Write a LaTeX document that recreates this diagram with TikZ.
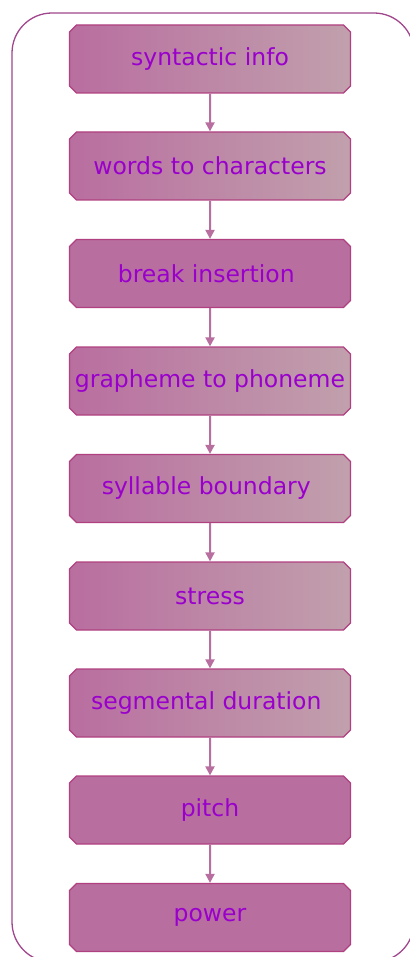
\documentclass[tikz,border=0pt]{standalone}
\usepackage{fontspec}
\setmainfont{DejaVu Sans}
\usepackage{xcolor}
\definecolor{ttsmauve}{RGB}{185,110,160}
\definecolor{ttsgrey}{RGB}{193,160,172}
\definecolor{ttsedge}{RGB}{176,64,128}
\definecolor{ttsframe}{RGB}{160,70,140}
\definecolor{ttstext}{RGB}{153,0,204}
\usetikzlibrary{arrows.meta, shapes.misc}

\begin{document}
\begin{tikzpicture}[x=1pt, y=-1pt,
    stage/.style={chamfered rectangle, chamfered rectangle xsep=3.5pt,
      chamfered rectangle ysep=3.5pt, draw=ttsedge, line width=1.2pt,
      minimum width=281pt, minimum height=68pt, inner sep=0pt,
      font=\fontsize{23.5}{26}\selectfont, text=ttstext},
    fade/.style={stage, left color=ttsmauve, right color=ttsgrey},
    flat/.style={stage, fill=ttsmauve},
    flow/.style={-{Triangle[length=9pt, width=9pt]}, line width=2pt, ttsmauve}]
  \useasboundingbox (0,0) rectangle (409,957);

  % outer frame (runs off the right and bottom edges)
  \draw[ttsframe, line width=1.3pt, rounded corners=40pt]
       (12,13) rectangle (414,962);

  % processing stages
  \node[fade] (syntax)   at (210,59)    {syntactic info};
  \node[fade] (chars)    at (210,166)   {words to characters};
  \node[flat] (breaks)   at (210,273.5) {break insertion\ \ };
  \node[fade] (g2p)      at (210,381)   {grapheme to phoneme};
  \node[fade] (syllable) at (210,488.5) {syllable boundary\ \ };
  \node[fade] (stress)   at (210,596)   {stress};
  \node[fade] (duration) at (210,703)   {segmental duration\ \ };
  \node[flat] (pitch)    at (210,810)   {pitch};
  \node[flat] (power)    at (210,917.5) {power};

  % arrows between stages
  \draw[flow] (syntax)   -- (chars);
  \draw[flow] (chars)    -- (breaks);
  \draw[flow] (breaks)   -- (g2p);
  \draw[flow] (g2p)      -- (syllable);
  \draw[flow] (syllable) -- (stress);
  \draw[flow] (stress)   -- (duration);
  \draw[flow] (duration) -- (pitch);
  \draw[flow] (pitch)    -- (power);
\end{tikzpicture}
\end{document}
